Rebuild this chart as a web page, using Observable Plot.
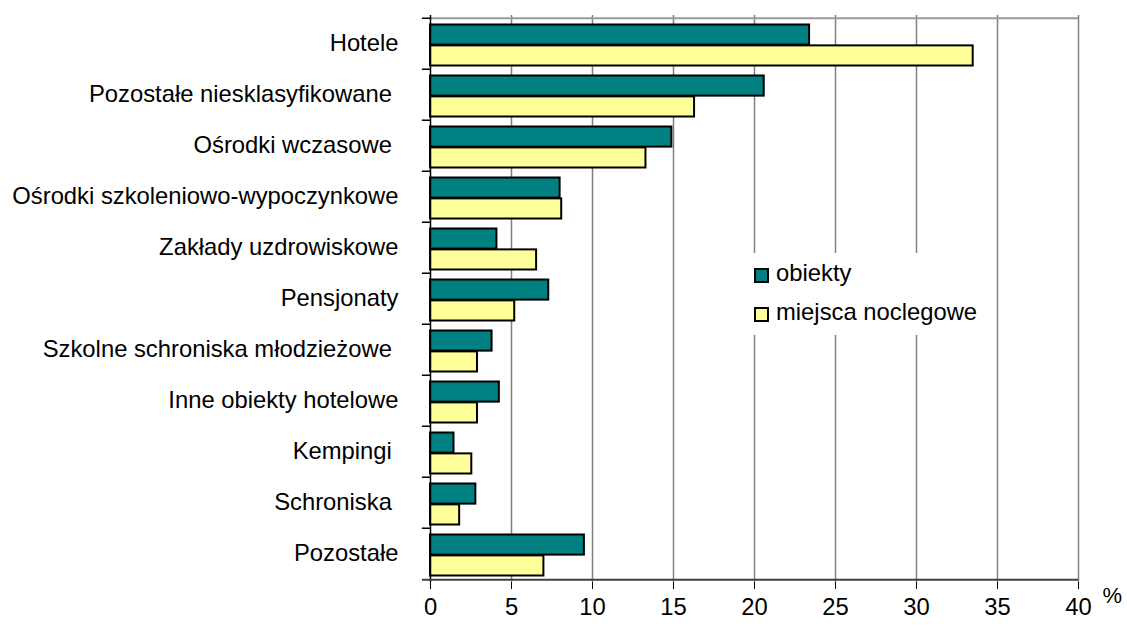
<!DOCTYPE html>
<html>
<head>
<meta charset="utf-8">
<script src="https://cdn.jsdelivr.net/npm/d3@7"></script>
<script src="https://cdn.jsdelivr.net/npm/@observablehq/plot@0.6"></script>
<style>
  html, body { margin: 0; padding: 0; background: #fff; }
  #wrap { position: relative; width: 1127px; height: 628px; font-family: "Liberation Sans", Arial, sans-serif; }
  #legend { position: absolute; left: 750px; top: 253px; width: 240px; height: 82px; background: #fff; }
  .sw { position: absolute; width: 11px; height: 11px; border: 2px solid #000; }
  .lt { position: absolute; font-size: 23.8px; line-height: 1; color: #000; white-space: nowrap; }
</style>
</head>
<body>
<div id="wrap"></div>
<script>
const categories = [
  "Hotele",
  "Pozostałe niesklasyfikowane\u00a0",
  "Ośrodki wczasowe\u00a0",
  "Ośrodki szkoleniowo-wypoczynkowe",
  "Zakłady uzdrowiskowe",
  "Pensjonaty",
  "Szkolne schroniska młodzieżowe\u00a0",
  "Inne obiekty hotelowe",
  "Kempingi\u00a0",
  "Schroniska\u00a0",
  "Pozostałe"
];
const seriesNames = ["obiekty", "miejsca noclegowe"];
const obiekty = [23.4, 20.6, 14.9, 8.0, 4.1, 7.3, 3.8, 4.25, 1.45, 2.8, 9.5];
const miejsca = [33.5, 16.3, 13.3, 8.1, 6.55, 5.2, 2.9, 2.9, 2.55, 1.8, 7.0];
const xTicks = [0, 5, 10, 15, 20, 25, 30, 35, 40];
const colors = ["#008080", "#FFFF99"];

const W = 1127, H = 628, mt = 15, mb = 46, ml = 430, mr = 49;
const pInner = 0.19, pOuter = 0.095;
const step = (H - mt - mb) / (categories.length - pInner + 2 * pOuter);
const bw = step * (1 - pInner);
const half = bw / 2;

const rows = [];
categories.forEach((c, i) => {
  rows.push({cat: c, series: seriesNames[0], v: obiekty[i]});
  rows.push({cat: c, series: seriesNames[1], v: miejsca[i]});
});

const fontSize = 23.8;
const chart = Plot.plot({
  width: W, height: H,
  marginTop: mt, marginBottom: mb, marginLeft: ml, marginRight: mr,
  style: {fontFamily: '"Liberation Sans", Arial, sans-serif', fontSize: fontSize + "px", color: "#000", background: "#fff"},
  x: {domain: [0, 40]},
  y: {domain: categories, paddingInner: pInner, paddingOuter: pOuter},
  marks: [
    Plot.ruleX(xTicks.filter(d => d > 0), {stroke: "#808080", strokeWidth: 1.5}),
    Plot.ruleY([categories[0]], {x1: 0, x2: 40, dy: -step / 2, stroke: "#999", strokeWidth: 2}),
    Plot.barX(rows.filter(d => d.series === seriesNames[0]), {
      x: "v", y: "cat", fill: colors[0], stroke: "#000", strokeWidth: 2,
      insetBottom: half, dy: 1.5
    }),
    Plot.barX(rows.filter(d => d.series === seriesNames[1]), {
      x: "v", y: "cat", fill: colors[1], stroke: "#000", strokeWidth: 2,
      insetTop: half, dy: 1.5
    }),
    Plot.ruleX([0], {stroke: "#000", strokeWidth: 1.5}),
    Plot.ruleY(categories, {x1: -0.5, x2: 0, dy: -step / 2, stroke: "#000", strokeWidth: 1.5}),
    Plot.ruleY([categories[categories.length - 1]], {x1: -0.5, x2: 40, dy: step / 2, stroke: "#404040", strokeWidth: 2}),
    Plot.axisY({tickSize: 0, tickPadding: 32, fontSize: fontSize, dy: -1, label: null}),
    Plot.axisX({ticks: xTicks, tickSize: 7, tickPadding: 9, fontSize: fontSize, label: null, stroke: "#000"}),
    Plot.text(["%"], {frameAnchor: "bottom-right", dx: 24, dy: 20, textAnchor: "start", fontSize: 22})
  ]
});

const wrap = document.getElementById("wrap");
wrap.appendChild(chart);

const legend = document.createElement("div");
legend.id = "legend";
wrap.appendChild(legend);
const swTops = [267.5, 307];
const txTops = [260.6, 300];
seriesNames.forEach((name, i) => {
  const sw = document.createElement("div");
  sw.className = "sw";
  sw.style.left = (754 - 750) + "px";
  sw.style.top = (swTops[i] - 253) + "px";
  sw.style.background = colors[i];
  legend.appendChild(sw);
  const t = document.createElement("div");
  t.className = "lt";
  t.style.left = (776 - 750) + "px";
  t.style.top = (txTops[i] - 253) + "px";
  t.textContent = name;
  legend.appendChild(t);
});
</script>
</body>
</html>
